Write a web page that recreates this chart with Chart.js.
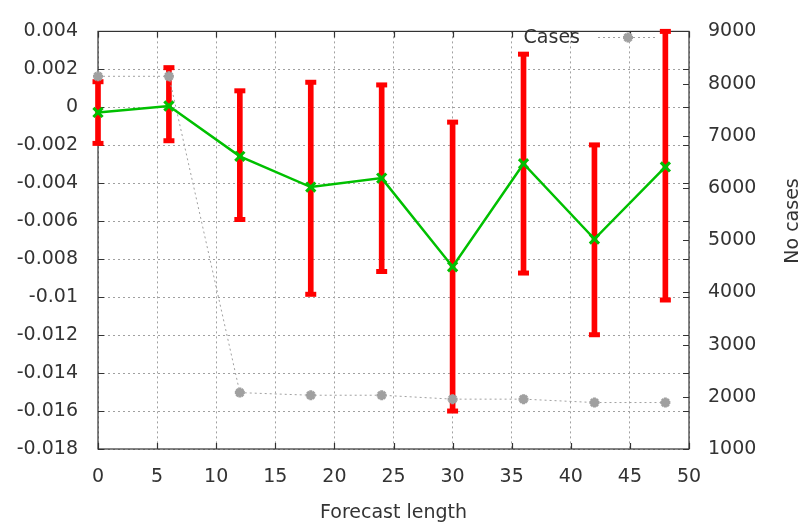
<!DOCTYPE html>
<html>
<head>
<meta charset="utf-8">
<script src="https://cdn.jsdelivr.net/npm/chart.js@4/dist/chart.umd.min.js"></script>
<style>
  html, body { margin: 0; padding: 0; background: #fff; }
  #wrap { width: 804px; height: 523px; }
</style>
</head>
<body>
<div id="wrap"><canvas id="chart" width="804" height="523"></canvas></div>
<script>
// Data
const steps = [0, 6, 12, 18, 24, 30, 36, 42, 48];
const meanError = [-0.00027, 0.00007, -0.00258, -0.0042, -0.00373, -0.0084, -0.00297, -0.00694, -0.00314];
const errLow = [-0.0019, -0.00176, -0.00591, -0.00985, -0.00865, -0.0160, -0.00873, -0.01198, -0.01015];
const errHigh = [0.00135, 0.00209, 0.00087, 0.00132, 0.00118, -0.00078, 0.0028, -0.00198, 0.004];
const cases = [8140, 8140, 2080, 2030, 2030, 1955, 1955, 1890, 1890];

// Axis ticks
const xTicks = [0, 5, 10, 15, 20, 25, 30, 35, 40, 45, 50];
const yTicks = [0.004, 0.002, 0, -0.002, -0.004, -0.006, -0.008, -0.01, -0.012, -0.014, -0.016, -0.018];
const y2Ticks = [9000, 8000, 7000, 6000, 5000, 4000, 3000, 2000, 1000];

const RED = '#ff0000';
const GREEN = '#00c000';
const GREY = '#a0a0a0';
const INK = '#333333';

Chart.defaults.font.family = "'DejaVu Sans', sans-serif";
Chart.defaults.font.size = 19;
Chart.defaults.color = INK;

// Frame, inward tick marks, legend and right axis title (gnuplot look)
const gnuFrame = {
    id: 'gnuFrame',
    beforeDatasetsDraw(chart) {
        const { ctx, chartArea: a, scales } = chart;
        const len = 6;
        ctx.save();
        ctx.strokeStyle = INK;
        ctx.lineWidth = 1.2;
        ctx.beginPath();
        xTicks.forEach(v => {
            const px = Math.round(scales.x.getPixelForValue(v)) + 0.5;
            ctx.moveTo(px, a.bottom); ctx.lineTo(px, a.bottom - len);
            ctx.moveTo(px, a.top); ctx.lineTo(px, a.top + len);
        });
        yTicks.forEach(v => {
            const py = Math.round(scales.y.getPixelForValue(v)) + 0.5;
            ctx.moveTo(a.left, py); ctx.lineTo(a.left + len, py);
            ctx.moveTo(a.right, py); ctx.lineTo(a.right - len, py);
        });
        y2Ticks.forEach(v => {
            const py = Math.round(scales.y2.getPixelForValue(v)) + 0.5;
            ctx.moveTo(a.right, py); ctx.lineTo(a.right - len, py);
        });
        ctx.stroke();
        ctx.strokeRect(a.left, a.top, a.right - a.left, a.bottom - a.top);
        ctx.restore();
    },
    afterDraw(chart) {
        const { ctx } = chart;
        const ds = chart.data.datasets.find(d => d.label === 'Cases');
        ctx.save();
        ctx.font = "19px 'DejaVu Sans', sans-serif";
        ctx.fillStyle = INK;
        ctx.textAlign = 'right';
        ctx.textBaseline = 'middle';
        ctx.fillText(ds.label, 580, 38);
        ctx.strokeStyle = GREY;
        ctx.lineWidth = 1;
        ctx.setLineDash([2, 3]);
        ctx.beginPath();
        ctx.moveTo(598, 37.5); ctx.lineTo(657, 37.5);
        ctx.stroke();
        ctx.setLineDash([]);
        ctx.lineWidth = ds.pointBorderWidth;
        ctx.fillStyle = GREY;
        Chart.helpers.drawPoint(ctx, {
            pointStyle: ds.pointStyle, radius: ds.pointRadius, borderWidth: ds.pointBorderWidth
        }, 628, 37.5);
        // right axis title, reading bottom to top
        ctx.fillStyle = INK;
        ctx.translate(793, 221);
        ctx.rotate(-Math.PI / 2);
        ctx.textAlign = 'center';
        ctx.fillText('No cases', 0, 0);
        ctx.restore();
    }
};

new Chart(document.getElementById('chart'), {
    type: 'line',
    data: {
        datasets: [
            {
                label: 'Mean error',
                data: steps.map((x, i) => ({ x, y: meanError[i] })),
                borderColor: GREEN,
                backgroundColor: GREEN,
                borderWidth: 2.5,
                pointStyle: 'crossRot',
                pointRadius: 6.5,
                pointBorderWidth: 3,
                pointBorderColor: GREEN,
                yAxisID: 'y',
                clip: false,
                order: 0
            },
            {
                label: 'Cases',
                data: steps.map((x, i) => ({ x, y: cases[i] })),
                borderColor: GREY,
                backgroundColor: GREY,
                borderWidth: 1,
                borderDash: [2, 3],
                pointStyle: 'star',
                pointRadius: 5,
                pointBorderWidth: 3,
                pointBorderColor: GREY,
                yAxisID: 'y2',
                clip: false,
                order: 1
            },
            {
                label: 'Error caps',
                data: steps.map((x, i) => ({ x, y: errLow[i] }))
                    .concat(steps.map((x, i) => ({ x, y: errHigh[i] }))),
                showLine: false,
                pointStyle: 'line',
                pointRadius: 5.5,
                pointBorderWidth: 5,
                pointBorderColor: RED,
                yAxisID: 'y',
                clip: false,
                order: 2
            },
            {
                type: 'bar',
                label: 'Error range',
                data: steps.map((x, i) => ({ x, y: [errLow[i], errHigh[i]] })),
                backgroundColor: RED,
                borderWidth: 0,
                barThickness: 5,
                grouped: false,
                yAxisID: 'y',
                clip: false,
                order: 3
            }
        ]
    },
    options: {
        responsive: false,
        animation: false,
        layout: { padding: { top: 20, left: 0, right: 0, bottom: 0 } },
        plugins: {
            legend: { display: false },
            tooltip: { enabled: false }
        },
        scales: {
            x: {
                type: 'linear',
                min: 0,
                max: 50,
                offset: false,
                afterBuildTicks: s => { s.ticks = xTicks.map(v => ({ value: v })); },
                afterFit: s => { s.height = 74; },
                ticks: { padding: 17, color: INK },
                grid: { color: GREY, lineWidth: 1, drawTicks: false, offset: false },
                border: { display: false, dash: [2, 3] },
                title: {
                    display: true,
                    text: 'Forecast length',
                    color: INK,
                    padding: { top: 0, bottom: -1 }
                }
            },
            y: {
                type: 'linear',
                position: 'left',
                min: -0.018,
                max: 0.004,
                afterBuildTicks: s => { s.ticks = yTicks.map(v => ({ value: v })); },
                afterFit: s => { s.width = 98; },
                ticks: {
                    padding: 20,
                    color: INK,
                    callback: v => String(Number(v.toFixed(3)))
                },
                grid: { color: GREY, lineWidth: 1, drawTicks: false },
                border: { display: false, dash: [2, 3] }
            },
            y2: {
                type: 'linear',
                position: 'right',
                min: 1000,
                max: 9000,
                afterBuildTicks: s => { s.ticks = y2Ticks.map(v => ({ value: v })); },
                afterFit: s => { s.width = 115; },
                ticks: { padding: 19, color: INK, callback: v => String(v) },
                grid: { drawOnChartArea: false, drawTicks: false },
                border: { display: false }
            }
        }
    },
    plugins: [gnuFrame]
});
</script>
</body>
</html>
